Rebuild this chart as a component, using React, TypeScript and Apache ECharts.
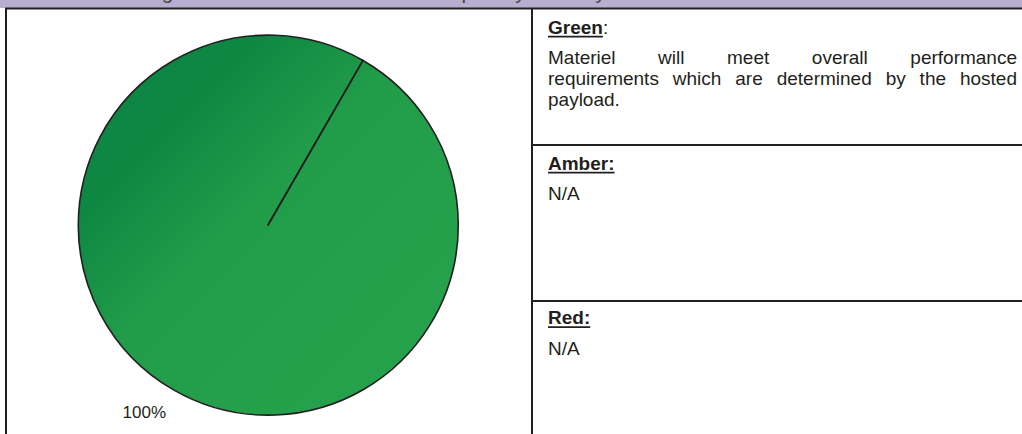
import React, { useEffect, useRef } from "react";
import * as echarts from "echarts";

const TITLE = "The Percentage Breakdown of the Materiel Capability Delivery Performance";
const SEGMENTS = ["Green", "Amber", "Red"];
const SHARES = [100, 0, 0];
const DESCRIPTIONS = [
  ["Materiel will meet overall performance", "requirements which are determined by the hosted", "payload."],
  ["N/A"],
  ["N/A"],
];

const FONT_FAMILY = "'Liberation Sans', Arial, Helvetica, sans-serif";
const INK = "#231f20";
const W = 1022;
const H = 434;
const PIE_CX = 268;
const PIE_CY = 225;
const PIE_R = 190;

function measure(text: string, size: number, bold = false): number {
  const c = document.createElement("canvas").getContext("2d")!;
  c.font = `${bold ? "bold " : ""}${size}px ${FONT_FAMILY}`;
  return c.measureText(text).width;
}

export default function App() {
  const ref = useRef<HTMLDivElement>(null);
  useEffect(() => {
    if (!ref.current) return;
    const chart = echarts.init(ref.current, undefined, { renderer: "svg" });
    const FS = 19;
    const colX = 548;
    const colR = 1017;
    const graphics: any[] = [];
    // header band (its caption is cropped by the top edge)
    graphics.push({ type: "rect", shape: { x: 0, y: 0, width: W, height: 8 }, style: { fill: "#b8aed0" }, z: 1 });
    graphics.push({
      type: "text", x: 38, y: -8.5, z: 2,
      style: { text: TITLE, fill: "#4a4646", font: `20.6px ${FONT_FAMILY}`, verticalAlign: "middle" },
    });
    // table lines
    const line = (x1: number, y1: number, x2: number, y2: number) =>
      graphics.push({ type: "line", shape: { x1, y1, x2, y2 }, style: { stroke: INK, lineWidth: 2 }, z: 3 });
    line(5, 8.5, W, 8.5);
    line(6, 8.5, 6, H);
    line(532, 8.5, 532, H);
    line(532, 145, W, 145);
    line(532, 301, W, 301);

    const headMid = [27, 163, 317.5];
    const bodyMid = [[57.5, 78.5, 99.5], [193], [348]];
    SEGMENTS.forEach((seg, i) => {
      const underlineColon = i !== 0;
      const ww = measure(seg, FS, true);
      graphics.push({
        type: "text", x: colX, y: headMid[i], z: 4,
        style: { text: seg, fill: INK, font: `bold ${FS}px ${FONT_FAMILY}`, verticalAlign: "middle" },
      });
      const colonW = measure(":", FS, underlineColon);
      graphics.push({
        type: "text", x: colX + ww, y: headMid[i], z: 4,
        style: { text: ":", fill: INK, font: `${underlineColon ? "bold " : ""}${FS}px ${FONT_FAMILY}`, verticalAlign: "middle" },
      });
      const uy = headMid[i] + 0.358 * FS + 2.8;
      graphics.push({
        type: "line",
        shape: { x1: colX, y1: uy, x2: colX + ww + (underlineColon ? colonW : 0), y2: uy },
        style: { stroke: INK, lineWidth: 1.8 }, z: 4,
      });
      const lines = DESCRIPTIONS[i];
      lines.forEach((ln, li) => {
        const y = bodyMid[i][li];
        const isLast = li === lines.length - 1;
        if (isLast) {
          graphics.push({
            type: "text", x: colX, y, z: 4,
            style: { text: ln, fill: INK, font: `${FS}px ${FONT_FAMILY}`, verticalAlign: "middle" },
          });
        } else {
          const words = ln.split(" ");
          const widths = words.map((w) => measure(w, FS));
          const total = widths.reduce((a, b) => a + b, 0);
          const gap = (colR - colX - total) / (words.length - 1);
          let x = colX;
          words.forEach((w, wi) => {
            graphics.push({
              type: "text", x, y, z: 4,
              style: { text: w, fill: INK, font: `${FS}px ${FONT_FAMILY}`, verticalAlign: "middle" },
            });
            x += widths[wi] + gap;
          });
        }
      });
    });

    const greenFill = new echarts.graphic.LinearGradient(0, 0, 1, 1, [
      { offset: 0, color: "#0a8240" },
      { offset: 0.24, color: "#0d8843" },
      { offset: 0.45, color: "#219c49" },
      { offset: 1, color: "#28a34c" },
    ]);
    const sliceColors = [greenFill, "#f5a623", "#e02020"];

    chart.setOption({
      animation: false,
      graphic: graphics,
      series: [
        {
          type: "pie",
          center: [PIE_CX, PIE_CY],
          radius: PIE_R,
          startAngle: 60,
          clockwise: true,
          avoidLabelOverlap: false,
          data: SEGMENTS.map((name, i) => ({
            name,
            value: SHARES[i],
            itemStyle: { color: sliceColors[i] },
            label: { show: SHARES[i] > 0 },
            labelLine: { show: false },
          })),
          itemStyle: { borderColor: INK, borderWidth: 1.6 },
          label: {
            show: true,
            position: "outside",
            formatter: (p: any) => `${Math.round(p.percent)}%`,
            color: INK,
            fontSize: 17,
            fontFamily: FONT_FAMILY,
            distanceToLabelLine: -6,
          },
          labelLine: { show: false, length: 26, length2: 0 },
          emphasis: { disabled: true },
        },
      ],
    });
    return () => chart.dispose();
  }, []);
  return <div ref={ref} style={{ position: "absolute", left: 0, top: 0, width: W, height: H }} />;
}
